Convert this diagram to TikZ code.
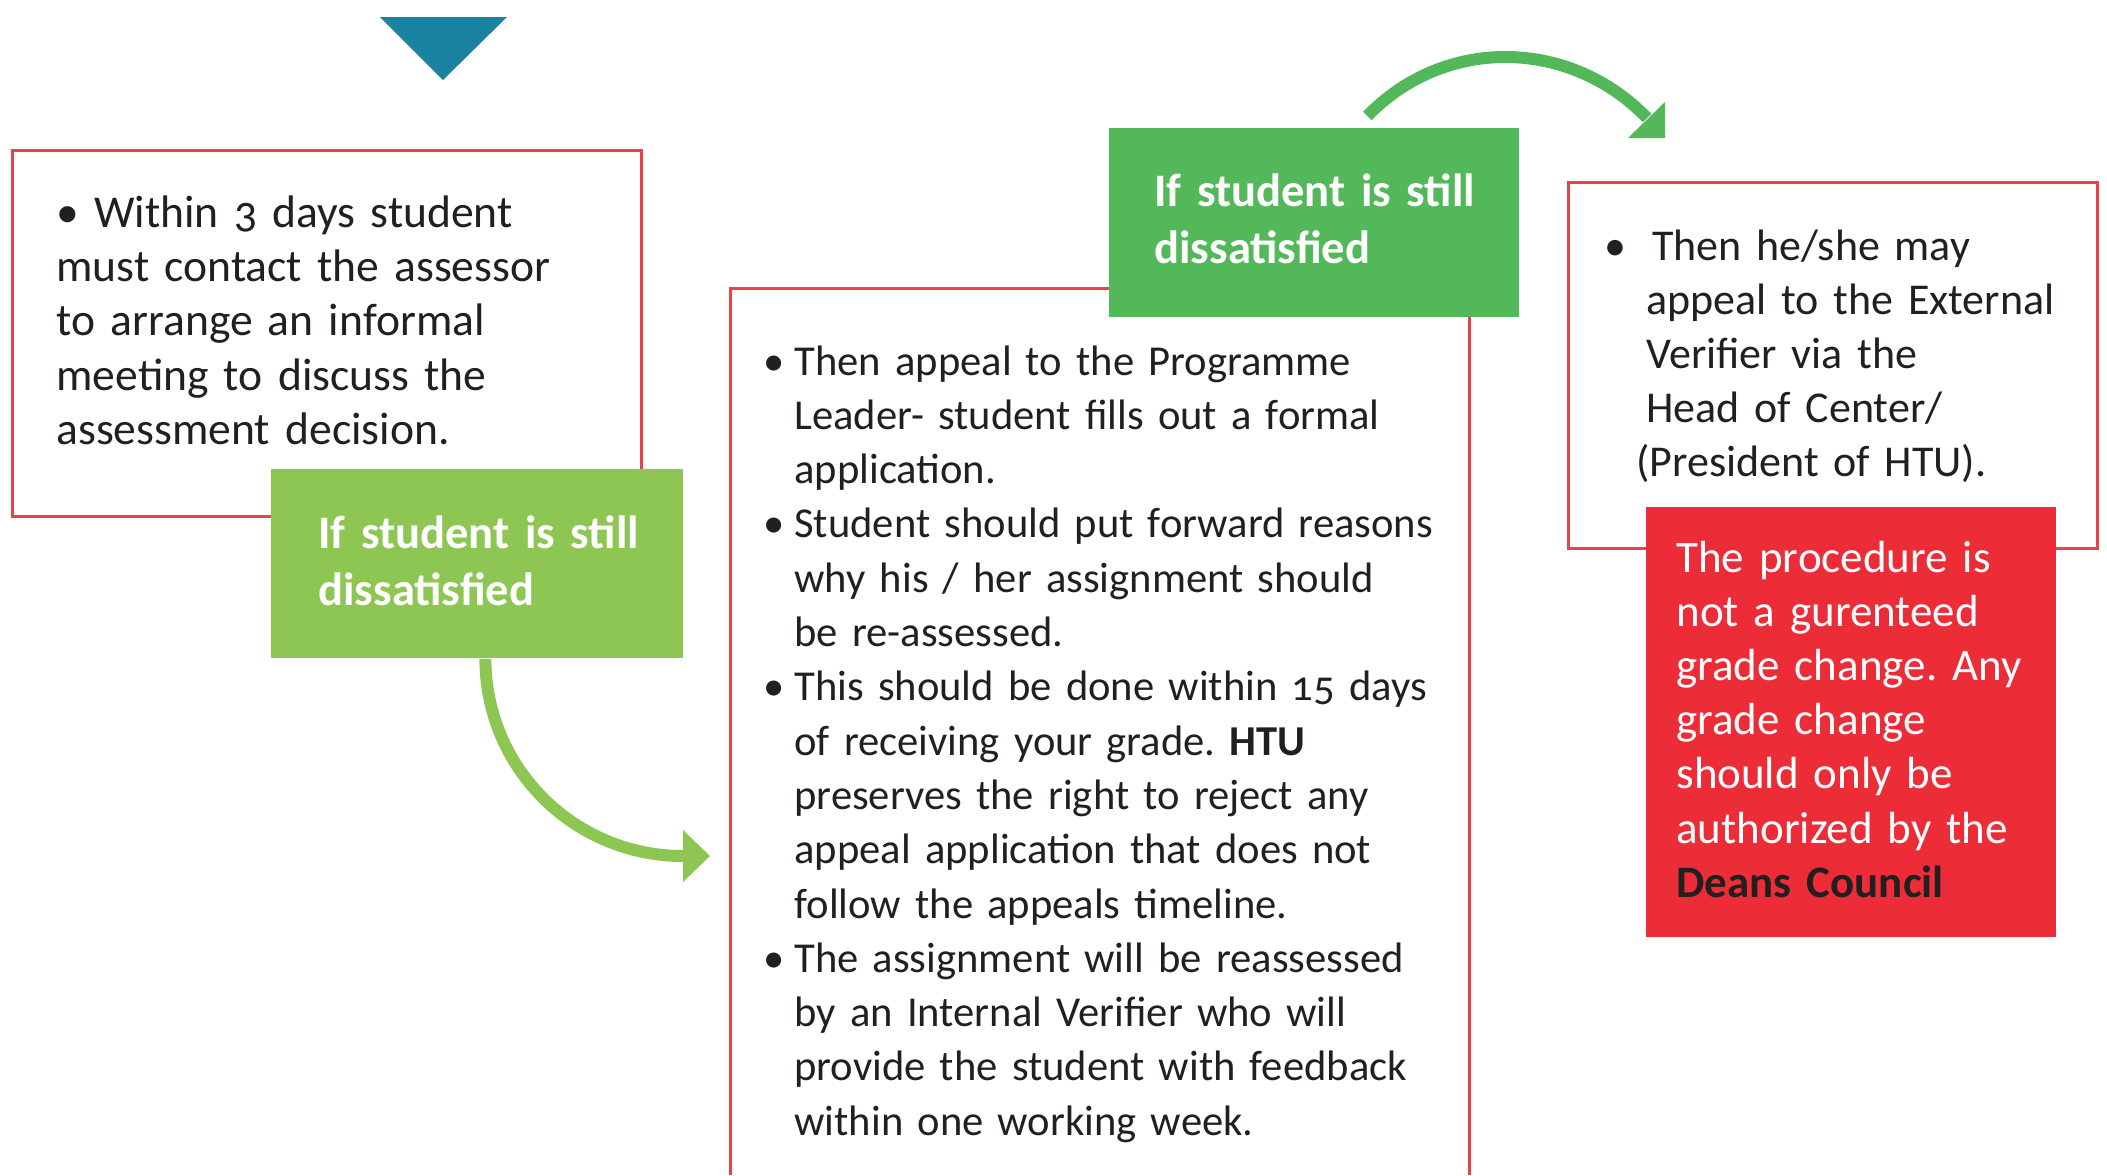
\documentclass[tikz,border=0pt]{standalone}
\usepackage{fontspec}
\setmainfont{Carlito}[Numbers=OldStyle,WordSpace=0.8]
\definecolor{boxred}{HTML}{E8424B}
\definecolor{lgreen}{HTML}{8DC653}
\definecolor{dgreen}{HTML}{52B85A}
\definecolor{alertred}{HTML}{EC2D38}
\definecolor{tealtri}{HTML}{1A82A1}
\definecolor{ink}{HTML}{231F20}
\newcommand{\bul}[1]{\leavevmode\llap{\textbullet\hspace{#1}}}
\begin{document}
\frenchspacing
\begin{tikzpicture}[x=0.5pt,y=-0.5pt,
  outline/.style={draw=boxred,line width=1.5pt,anchor=north west,inner sep=0pt},
  fillbox/.style={anchor=north west,inner sep=0pt,draw=none},
  body/.style={anchor=base west,inner sep=0pt,text width=330pt,align=left,text=ink},
  label/.style={anchor=base west,inner sep=0pt,text width=200pt,align=left,text=white,
    font=\fontsize{23.3}{28.5}\selectfont\bfseries},
  flow/.style={line width=6pt},
]
\useasboundingbox (0,0) rectangle (2107,1175);
% triangle
\fill[tealtri] (380,17) -- (507,17) -- (443,80) -- cycle;
% box 1 and its green label
\node[outline,minimum width=314.5pt,minimum height=183pt] (b1) at (11,149) {};
\node[fillbox,fill=lgreen,minimum width=206pt,minimum height=94.5pt] (g1) at (271,469) {};
% box 2 (open at the bottom)
\draw[draw=boxred,line width=1.5pt] (730,1175) |- (1469,288) -- (1469,1175);
\node[fillbox,fill=dgreen,minimum width=205pt,minimum height=94.5pt] (g2) at (1109,128) {};
% box 3 and red note
\node[outline,minimum width=264.5pt,minimum height=183pt] (b3) at (1567,181) {};
\node[fillbox,fill=alertred,minimum width=205pt,minimum height=215pt] (r1) at (1646,507) {};
% texts
\node[body,font=\fontsize{22.8}{27.2}\selectfont] (t1) at (56,227) {\textbullet\ Within 3 days student\\
must contact the assessor\\
to arrange an informal\\
meeting to discuss the\\
assessment decision.};
\node[label] (l1) at (318,548) {If student is still\\dissatisfied};
\node[label] (l2) at (1154,206) {If student is still\\dissatisfied};
\node[body,font=\fontsize{21.3}{27.15}\selectfont] (t2) at (794,375) {\bul{5pt}Then appeal to the Programme\\
Leader- student fills out a formal\\
application.\\
\bul{5pt}Student should put forward reasons\\
why his / her assignment should\\
be re-assessed.\\
\bul{5pt}This should be done within 15 days\\
of receiving your grade. \textbf{HTU}\\
preserves the right to reject any\\
appeal application that does not\\
follow the appeals timeline.\\
\bul{5pt}The assignment will be reassessed\\
by an Internal Verifier who will\\
provide the student with feedback\\
within one working week.};
\node[body,font=\fontsize{22}{27.1}\selectfont] (t3) at (1646,260) {\bul{10pt}\hspace*{3pt}Then he/she may\\
appeal to the External\\
Verifier via the\\
Head of Center/\\
\hspace*{-5pt}(President of HTU).};
\node[body,text=white,font=\fontsize{22.5}{27.1}\selectfont] (t4) at (1676,572) {The procedure is\\
not a gurenteed\\
grade change. Any\\
grade change\\
should only be\\
authorized by the\\
\textcolor{ink}{\textbf{Deans Council}}};
% arrows
\coordinate (a1) at (683,856);
\draw[flow,lgreen] ([xshift=4pt]g1.south) .. controls +(0,109) and +(-109,0) .. (a1);
\fill[lgreen] (a1) ++(0,-26) -- ++(0,52) -- ++(27,-26) -- cycle;
\coordinate (a2) at (1647,118);
\draw[flow,dgreen] ([xshift=26.5pt,yshift=6pt]g2.north) .. controls +(77,-80) and +(-77,-80) .. (a2);
\fill[dgreen] (a2) ++(-19,20) -- ++(37,0) -- ++(0,-36) -- cycle;
\end{tikzpicture}
\end{document}
